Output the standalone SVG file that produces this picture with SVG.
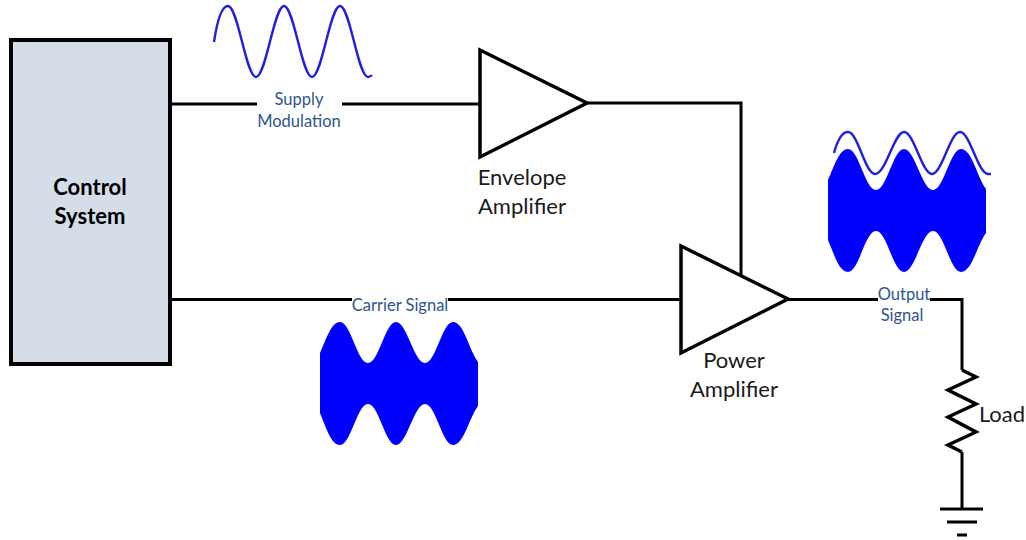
<svg xmlns="http://www.w3.org/2000/svg" width="1026" height="540" viewBox="0 0 1026 540">
<style>
text{font-family:Lato,"Liberation Sans",sans-serif;text-anchor:middle}
.k{font-size:22px;fill:#1a1a1a}
.b{font-size:16.500px;fill:#2f5590}
.w{fill:none;stroke:#000;stroke-width:3;stroke-linejoin:miter}
.s{fill:none;stroke:#1f1fe0;stroke-width:2.400}
.f{fill:#0000ff}
.a{fill:#fff;stroke:#000;stroke-width:3.500;stroke-linejoin:miter}
</style>
<defs>
<path id="blob" class="f" d="M0 31C6 18 11 0 20 0C31 0 37 41 48 41C59 41 65 0 76 0C87 0 94 41 105 41C116 41 122 0 133 0C144 0 149 28 158 40V84C149 96 144 123 133 123C122 123 116 82 105 82C94 82 87 123 76 123C65 123 59 82 48 82C37 82 31 123 20 123C11 123 6 105 0 91Z"/>
</defs>
<g id="connectors">
<path class="w" d="M172 104H257M342 104H480"/>
<path class="w" d="M587 103H741V276"/>
<path class="w" d="M172 299.500H352M448 299.500H681"/>
<path class="w" d="M788 299.500H878M930 299.500H962V370"/>
<path class="w" d="M962 452V509"/>
</g>
<g id="control-system">
<rect x="11" y="40" width="159" height="324" fill="#d5dde9" stroke="#000" stroke-width="4"/>
<text x="90" y="195" font-size="22" font-weight="700" fill="#000">Control</text>
<text x="90" y="224" font-size="22" font-weight="700" fill="#000">System</text>
</g>
<g id="supply-wave">
<path class="s" d="M214 42C217 22 221 6 228 6C238 6 246 77 256 77C266 77 274 6 284 6C294 6 302 77 312 77C322 77 330 6 340 6C350 6 358 77 368 77C370 77 371 76 372 75"/>
<text class="b" x="299" y="105">Supply</text>
<text class="b" x="299" y="127">Modulation</text>
</g>
<g id="envelope-amplifier">
<path class="a" d="M480 50L587 103L480 157Z"/>
<text class="k" x="522" y="185">Envelope</text>
<text class="k" x="522" y="214">Amplifier</text>
</g>
<g id="carrier-signal">
<text class="b" x="400" y="311">Carrier Signal</text>
<use href="#blob" x="320" y="322"/>
</g>
<g id="power-amplifier">
<path class="a" d="M681 246L788 299L681 353Z"/>
<text class="k" x="734" y="368">Power</text>
<text class="k" x="734" y="397">Amplifier</text>
</g>
<g id="output-signal">
<use href="#blob" x="828" y="149"/>
<path class="s" d="M834 153C837 142 842 132 848 132C858 132 865 174 875 174C886 174 894 132 904 132C914 132 922 174 932 174C942 174 950 132 960 132C970 132 978 174 988 174L991 174"/>
<text class="b" x="904" y="300">Output</text>
<text class="b" x="902" y="321">Signal</text>
</g>
<g id="load">
<path class="w" d="M962 370L976 377L948 390L976 404L948 417L976 432L948 445L962 452" style="stroke-width:3.500"/>
<text class="k" x="1002" y="422">Load</text>
</g>
<g id="ground">
<path class="w" d="M940 509H983M947 522H977M957 535H967"/>
</g>
</svg>
